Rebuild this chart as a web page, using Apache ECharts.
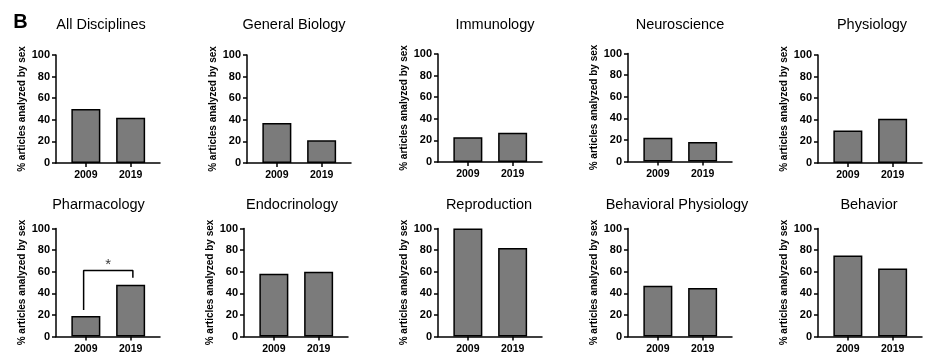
<!DOCTYPE html>
<html>
<head>
<meta charset="utf-8">
<script src="https://cdn.jsdelivr.net/npm/echarts@6/dist/echarts.min.js"></script>
<style>html,body{margin:0;padding:0;background:#fff}#c{width:940px;height:362px}</style>
</head>
<body>
<div id="c"></div>
<script>
// ---- data ----
const panelTitles = ['All Disciplines','General Biology','Immunology','Neuroscience','Physiology',
                     'Pharmacology','Endocrinology','Reproduction','Behavioral Physiology','Behavior'];
const years = ['2009','2019'];
const values2009 = [50, 37, 23, 22, 30, 19, 58, 100, 47, 75];
const values2019 = [42, 21, 27, 18, 41, 48, 60, 82, 45, 63];
const yAxisName = '% articles analyzed by sex';
const panelLetter = 'B';
// significance bracket (Pharmacology), in data units: [category index, value]
const sigPanel = 5;
const bracket = [[-0.05, 24.5], [-0.05, 61], [1.05, 61], [1.05, 54.5]];
const sigStar = [[0.5, 66.5]];
const sigLabel = '*';

// ---- layout ----
const gridLeft = [56, 247, 438, 628, 818, 56, 244, 438, 628, 818];
const gridTop = [55, 55, 54, 53.5, 55, 228.5, 228.5, 228.5, 228.5, 228.5];
const titleX = [101, 294, 495, 680, 872, 98.5, 292, 489, 677, 869];
const titleY = [25, 25, 25, 25, 25, 205, 205, 205, 205, 205];

const font = '"Liberation Sans", Arial, sans-serif';
const grids = [], xAxes = [], yAxes = [], series = [], graphics = [];

panelTitles.forEach((t, i) => {
  grids.push({left: gridLeft[i], top: gridTop[i], width: 104, height: 108});
  xAxes.push({
    type: 'value', gridIndex: i, min: -0.667, max: 1.656,
    splitLine: {show: false},
    axisLine: {show: true, onZero: false, lineStyle: {color: '#000', width: 1.5}},
    axisTick: {show: true, customValues: [0, 1], length: 4, lineStyle: {color: '#000', width: 1.5}},
    axisLabel: {customValues: [0, 1], formatter: v => years[Math.round(v)], margin: 7,
                color: '#000', fontWeight: 'bold', fontSize: 10.5, fontFamily: font}
  });
  yAxes.push({
    type: 'value', gridIndex: i, min: 0, max: 100, interval: 20,
    name: yAxisName, nameLocation: 'middle', nameGap: 29, nameRotate: 90,
    nameTextStyle: {color: '#000', fontWeight: 'bold', fontSize: 10, fontFamily: font},
    splitLine: {show: false},
    axisLine: {show: true, onZero: false, lineStyle: {color: '#000', width: 1.5}},
    axisTick: {show: true, length: 4, lineStyle: {color: '#000', width: 1.5}},
    axisLabel: {margin: 6, color: '#000', fontWeight: 'bold', fontSize: 11, fontFamily: font}
  });
  series.push({
    type: 'bar', xAxisIndex: i, yAxisIndex: i, barWidth: 29,
    data: [[0, values2009[i]], [1, values2019[i]]],
    itemStyle: {color: '#7b7b7b', borderColor: '#000', borderWidth: 1.5},
    silent: true, animation: false
  });
  graphics.push({
    type: 'text', x: titleX[i], y: titleY[i],
    style: {text: t, fill: '#000', font: '14.5px ' + font, textAlign: 'center', textVerticalAlign: 'middle'}
  });
});

series.push({
  type: 'line', xAxisIndex: sigPanel, yAxisIndex: sigPanel, data: bracket,
  symbol: 'none', lineStyle: {color: '#000', width: 1.5}, animation: false, silent: true
});
series.push({
  type: 'scatter', xAxisIndex: sigPanel, yAxisIndex: sigPanel, data: sigStar,
  symbolSize: 0, animation: false, silent: true,
  label: {show: true, position: 'inside', formatter: sigLabel, color: '#000', fontSize: 15, fontFamily: font}
});

graphics.push({
  type: 'text', x: 20.5, y: 22,
  style: {text: panelLetter, fill: '#000', font: 'bold 20px ' + font, textAlign: 'center', textVerticalAlign: 'middle'}
});

const chart = echarts.init(document.getElementById('c'), null, {renderer: 'canvas'});
chart.setOption({
  backgroundColor: '#fff',
  animation: false,
  grid: grids, xAxis: xAxes, yAxis: yAxes, series: series, graphic: graphics
});
</script>
</body>
</html>
